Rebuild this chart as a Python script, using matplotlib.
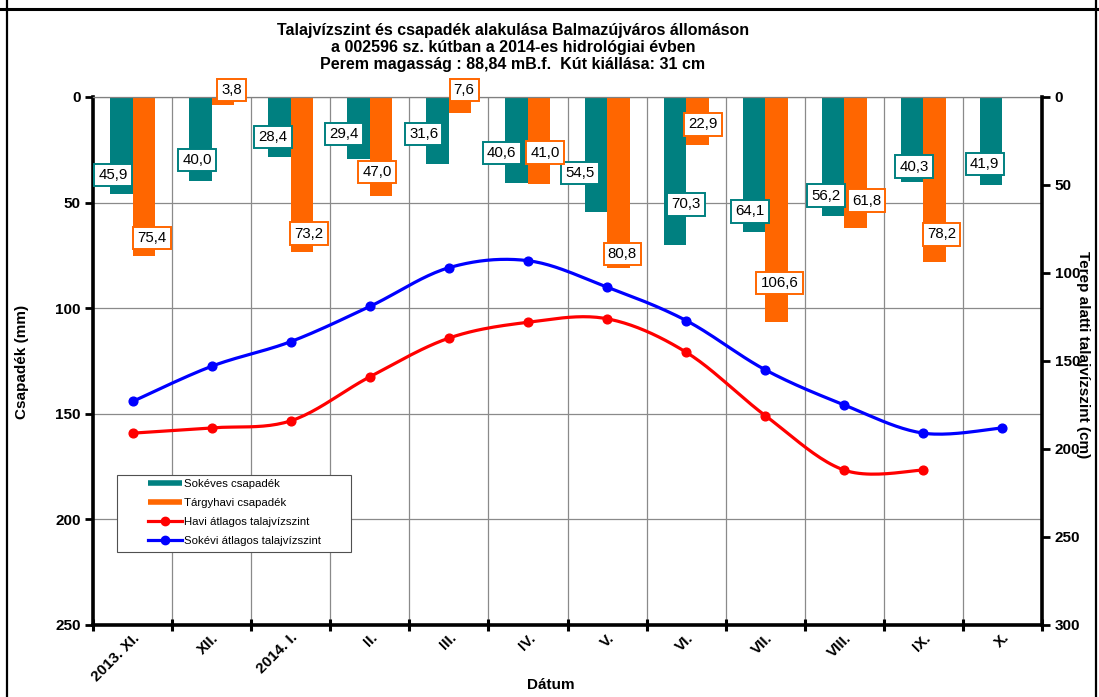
import numpy as np
import matplotlib
matplotlib.use('Agg')
import matplotlib.pyplot as plt
from matplotlib.lines import Line2D
from matplotlib.patches import Rectangle

plt.rcParams['font.family'] = ['Liberation Sans', 'DejaVu Sans']

# ---------------- data ----------------
categories = ["2013. XI.", "XII.", "2014. I.", "II.", "III.", "IV.", "V.", "VI.",
              "VII.", "VIII.", "IX.", "X."]
sokeves_csapadek = [45.9, 40.0, 28.4, 29.4, 31.6, 40.6, 54.5, 70.3, 64.1, 56.2, 40.3, 41.9]
targyhavi_csapadek = [75.4, 3.8, 73.2, 47.0, 7.6, 41.0, 80.8, 22.9, 106.6, 61.8, 78.2]
havi_talajviz = [191, 188, 184, 159, 137, 128, 126, 145, 181, 212, 212]
sokevi_talajviz = [173, 153, 139, 119, 97, 93, 108, 127, 155, 175, 191, 188]
left_ticks = [0, 50, 100, 150, 200, 250]
right_ticks = [0, 50, 100, 150, 200, 250, 300]

# label offsets (pixels, dx, dy-up) relative to bar end
teal_label_off = [(-8, 19), (-3, 21.5), (-6.5, 20), (-14.6, 25), (-14, 30), (-15, 30),
                  (-16, 39), (11, 41), (-4, 21), (-7, 20), (2, 15.5), (-6.5, 21.5)]
orange_label_off = [(8, 18), (9, 15), (7, 18), (-4, 24), (4, 23), (6, 31), (4, 13.6),
                    (5.5, 21), (3, 39), (11, 27), (7, 27.7)]

TEAL = '#008080'
ORANGE = '#FF6600'
RED = '#FF0000'
BLUE = '#0000FF'

W, H = 1099, 697
fig = plt.figure(figsize=(W / 100, H / 100), dpi=100)
ax = fig.add_axes([93 / W, 1 - 625 / H, (1042 - 93) / W, (625 - 97) / H])
ax2 = ax.twinx()

n = len(categories)
x = np.arange(n)
bw = 0.285

ax.set_axisbelow(True)
ax.bar(x - bw / 2, sokeves_csapadek, width=bw, color=TEAL, zorder=2)
xo = np.arange(len(targyhavi_csapadek))
ax.bar(xo + bw / 2, targyhavi_csapadek, width=bw, color=ORANGE, zorder=2)

ax.set_xlim(-0.5, n - 0.5)
ax.set_ylim(250, 0)
ax.set_yticks(left_ticks)
ax.set_yticklabels([str(t) for t in left_ticks], fontsize=11, fontweight='bold')

def fmt(v):
    return f"{v:.1f}".replace('.', ',')

for i, v in enumerate(sokeves_csapadek):
    dx, dy = teal_label_off[i]
    ax.annotate(fmt(v), xy=(i - bw / 2, v), xytext=(dx, dy), textcoords='offset pixels',
                ha='center', va='center', fontsize=10.8, zorder=5,
                bbox=dict(boxstyle='square,pad=0.28', fc='white', ec=TEAL, lw=1.4),
                annotation_clip=False)
for i, v in enumerate(targyhavi_csapadek):
    dx, dy = orange_label_off[i]
    ax.annotate(fmt(v), xy=(i + bw / 2, v), xytext=(dx, dy), textcoords='offset pixels',
                ha='center', va='center', fontsize=10.8, zorder=5,
                bbox=dict(boxstyle='square,pad=0.28', fc='white', ec=ORANGE, lw=1.4),
                annotation_clip=False)

# grid / ticks
ax.set_xticks(np.arange(-0.5, n, 1))
ax.set_xticklabels([])
ax.set_xticks(x, minor=True)
ax.set_xticklabels(categories, minor=True, rotation=45, ha='right',
                   rotation_mode='anchor', fontsize=11, fontweight='bold')
ax.tick_params(axis='x', which='major', direction='inout', length=8, width=2.2, color='black')
ax.tick_params(axis='x', which='minor', length=0, pad=4)
ax.tick_params(axis='y', direction='out', length=6, width=2, pad=3)
ax.grid(True, axis='both', which='major', color='#8a8a8a', lw=0.9)

for s in ['left', 'bottom']:
    ax.spines[s].set_linewidth(2.6)
    ax.spines[s].set_color('black')
ax.spines['right'].set_visible(False)
ax.spines['top'].set_color('#808080')
ax.spines['top'].set_linewidth(0.9)

# smoothed lines
def smooth(xs, ys, m=24):
    P = np.column_stack([np.asarray(xs, float), np.asarray(ys, float)])
    out = [P[0]]
    t = np.linspace(0, 1, m)[1:, None]
    for i in range(len(P) - 1):
        p0 = P[i - 1] if i > 0 else P[i]
        p1, p2 = P[i], P[i + 1]
        p3 = P[i + 2] if i + 2 < len(P) else P[i + 1]
        c1 = p1 + (p2 - p0) / 6
        c2 = p2 - (p3 - p1) / 6
        seg = (1 - t) ** 3 * p1 + 3 * (1 - t) ** 2 * t * c1 + 3 * (1 - t) * t ** 2 * c2 + t ** 3 * p2
        out.extend(seg)
    return np.array(out)

xh = np.arange(len(havi_talajviz))
xs_ = np.arange(len(sokevi_talajviz))
sb = smooth(xs_, sokevi_talajviz)
sr = smooth(xh, havi_talajviz)
ax2.plot(sb[:, 0], sb[:, 1], color=BLUE, lw=2.3, solid_capstyle='round')
ax2.plot(xs_, sokevi_talajviz, 'o', color=BLUE, ms=6.3)
ax2.plot(sr[:, 0], sr[:, 1], color=RED, lw=2.3, solid_capstyle='round')
ax2.plot(xh, havi_talajviz, 'o', color=RED, ms=6.3)

ax2.set_ylim(300, 0)
ax2.set_xlim(-0.5, n - 0.5)
ax2.set_yticks(right_ticks)
ax2.set_yticklabels([str(t) for t in right_ticks], fontsize=11, fontweight='bold')
ax2.tick_params(axis='y', direction='out', length=6, width=2, pad=3)
for s in ['left', 'bottom', 'top']:
    ax2.spines[s].set_visible(False)
ax2.spines['right'].set_linewidth(2.6)
ax2.spines['right'].set_color('black')

# axis labels
fig.text(22 / W, 1 - 362 / H, 'Csapadék (mm)', rotation=90, ha='center', va='center',
         fontsize=11, fontweight='bold')
fig.text(1083 / W, 1 - 355 / H, 'Terep alatti talajvízszint (cm)', rotation=-90,
         ha='center', va='center', fontsize=11, fontweight='bold')
fig.text(551 / W, 1 - 685 / H, 'Dátum', ha='center', va='center', fontsize=11,
         fontweight='bold')

# title
title_lines = ["Talajvízszint és csapadék alakulása Balmazújváros állomáson",
               "a 002596 sz. kútban a 2014-es hidrológiai évben",
               "Perem magasság : 88,84 mB.f.  Kút kiállása: 31 cm"]
for yy, tl in zip([31, 47.5, 65], title_lines):
    fig.text(513 / W, 1 - yy / H, tl, ha='center', va='center', fontsize=11.5,
             fontweight='bold')

# legend
handles = [Line2D([], [], color=TEAL, lw=4, solid_capstyle='butt'),
           Line2D([], [], color=ORANGE, lw=4, solid_capstyle='butt'),
           Line2D([], [], color=RED, lw=2.3, marker='o', ms=6),
           Line2D([], [], color=BLUE, lw=2.3, marker='o', ms=6)]
labels = ['Sokéves csapadék', 'Tárgyhavi csapadék', 'Havi átlagos talajvízszint',
          'Sokévi átlagos talajvízszint']
fig.add_artist(Rectangle((117 / W, 1 - 552 / H), (351 - 117) / W, (552 - 475) / H,
                         transform=fig.transFigure, fc='white', ec='#505050', lw=0.8,
                         zorder=3))
leg = fig.legend(handles, labels, loc='upper left',
                 bbox_to_anchor=(148 / W, 1 - 479 / H), frameon=False, fontsize=8.2,
                 handlelength=2.95, handletextpad=0.25, labelspacing=0.78, borderpad=0,
                 borderaxespad=0)
leg.set_zorder(4)

# outer frame
fig.add_artist(Line2D([0, 1], [1 - 8.5 / H, 1 - 8.5 / H], transform=fig.transFigure,
                      color='black', lw=2.2))
fig.add_artist(Line2D([7 / W, 7 / W], [0, 1], transform=fig.transFigure,
                      color='black', lw=1.6))
fig.add_artist(Line2D([1096 / W, 1096 / W], [0, 1], transform=fig.transFigure,
                      color='black', lw=1.6))

fig.savefig('out.png', dpi=100, facecolor='white')
